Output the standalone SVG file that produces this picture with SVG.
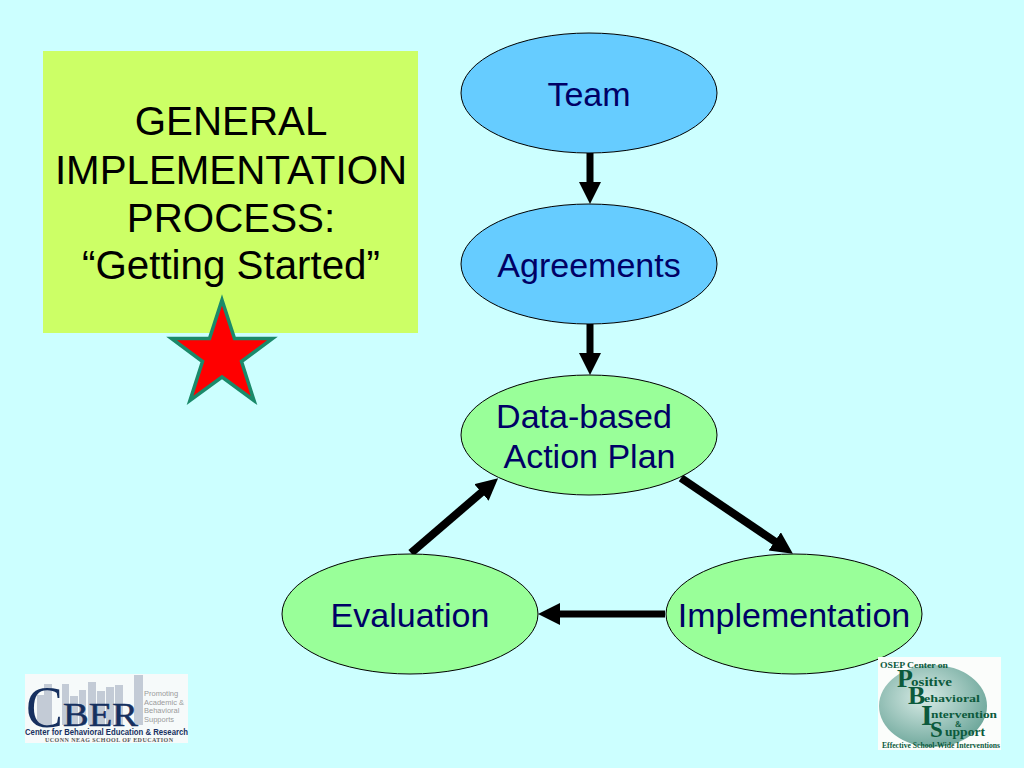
<svg xmlns="http://www.w3.org/2000/svg" width="1024" height="768" viewBox="0 0 1024 768">
<style>
.n{stroke:#000;stroke-width:1}
.b{fill:#66ccff}
.g{fill:#99ff99}
.t{font-family:"Liberation Sans",Arial,sans-serif;font-size:34px;fill:#000066;text-anchor:middle}
.h{font-family:"Liberation Sans",Arial,sans-serif;font-size:40.3px;fill:#000;text-anchor:middle}
.c{stroke:#000;stroke-width:7;fill:none;marker-end:url(#a)}
.d{stroke-width:8}
.s{font-family:"Liberation Serif",serif;font-weight:bold}
.l{font-family:"Liberation Sans",sans-serif}
</style>
<defs>
<marker id="a" markerUnits="userSpaceOnUse" markerWidth="24" markerHeight="24" refX="10" refY="11" orient="auto"><path d="M0 0L22 11L0 22z" fill="#000"/></marker>
<radialGradient id="e" cx=".42" cy=".4" r=".62"><stop offset="0" stop-color="#d8ebe6"/><stop offset="1" stop-color="#6fa89c"/></radialGradient>
</defs>
<rect width="1024" height="768" fill="#ccffff"/>
<g id="title"><rect x="43" y="51" width="375" height="282" fill="#ccff66"/>
<text class="h" x="231" y="135">GENERAL</text><text class="h" x="231" y="184">IMPLEMENTATION</text><text class="h" x="231" y="232">PROCESS:</text><text class="h" x="231" y="279">“Getting Started”</text></g>
<g id="star"><polygon points="222,300 234.500,338.500 272.500,338.500 241.500,361.500 254,400.500 222,377 190,400.500 202.500,361.500 171.500,338.500 209.500,338.500" fill="#ff0000" stroke="#1a8a6a" stroke-width="3.500"/></g>
<g id="connectors">
<path class="c" d="M590 153V192"/>
<path class="c" d="M590 324V363"/>
<path class="c d" d="M411 553L489 486"/>
<path class="c d" d="M681 478L783 547"/>
<path class="c" d="M665 614H550"/>
</g>
<g id="team"><ellipse class="n b" cx="589" cy="93" rx="128" ry="60"/><text class="t" x="589" y="106">Team</text></g>
<g id="agreements"><ellipse class="n b" cx="589" cy="264" rx="128" ry="60"/><text class="t" x="589" y="277">Agreements</text></g>
<g id="plan"><ellipse class="n g" cx="589" cy="435" rx="128" ry="60"/><text class="t" x="584" y="428">Data-based</text><text class="t" x="589.500" y="468">Action Plan</text></g>
<g id="evaluation"><ellipse class="n g" cx="410" cy="614" rx="128" ry="60"/><text class="t" x="410" y="627">Evaluation</text></g>
<g id="implementation"><ellipse class="n g" cx="794" cy="614" rx="128" ry="60"/><text class="t" x="794" y="627">Implementation</text></g>
<g id="cber">
<rect x="25" y="674" width="163" height="69" fill="#f6fafa"/>
<path fill="#c3cbd6" d="M37 695h8v30h-8zM44 684h8v41h-8zM62 684h7v41h-7zM70 696h8v29h-8zM79 690h7v35h-7zM88 682h8v43h-8zM97 691h8v34h-8zM106 687h8v38h-8zM115 685h8v40h-8zM134 675h9v50h-9z"/>
<text class="s" x="26" y="727" font-size="60" fill="#16305f" style="font-weight:normal" lengthAdjust="spacingAndGlyphs" textLength="37">C</text>
<text class="s" x="63" y="726" font-size="33" fill="#16305f" stroke="#16305f" stroke-width=".5" style="font-weight:normal" lengthAdjust="spacingAndGlyphs" textLength="75">BER</text>
<g class="l" font-size="7.500" fill="#9a9a9a"><text x="144" y="696">Promoting</text><text x="144" y="705">Academic &amp;</text><text x="144" y="713">Behavioral</text><text x="144" y="722">Supports</text></g>
<text class="l" x="25" y="735" font-size="8.500" font-weight="bold" fill="#16305f" lengthAdjust="spacingAndGlyphs" textLength="163">Center for Behavioral Education &amp; Research</text>
<text class="s" x="45" y="742" font-size="6" fill="#555" textLength="128">UCONN NEAG SCHOOL OF EDUCATION</text>
</g>
<g id="pbis">
<rect x="878" y="657" width="123" height="93" fill="#fbfdfb"/>
<ellipse cx="933" cy="706" rx="54" ry="41" fill="url(#e)"/>
<g class="s" fill="#0c5a3c">
<text x="880" y="668" font-size="8.500" lengthAdjust="spacingAndGlyphs" textLength="68">OSEP Center on</text>
<text x="897" y="687" font-size="26">P</text><text x="911" y="686" font-size="11.500" lengthAdjust="spacingAndGlyphs" textLength="41">ositive</text>
<text x="908" y="704" font-size="26">B</text><text x="924" y="702" font-size="11" lengthAdjust="spacingAndGlyphs" textLength="56">ehavioral</text>
<text x="921" y="725" font-size="30">I</text><text x="931" y="718" font-size="11" lengthAdjust="spacingAndGlyphs" textLength="66">ntervention</text>
<text x="955" y="727" font-size="8">&amp;</text>
<text x="930" y="737" font-size="23">S</text><text x="945" y="736" font-size="11.500" lengthAdjust="spacingAndGlyphs" textLength="40">upport</text>
<text x="882" y="748" font-size="7.500" lengthAdjust="spacingAndGlyphs" textLength="118">Effective School-Wide Interventions</text>
</g></g>
</svg>
